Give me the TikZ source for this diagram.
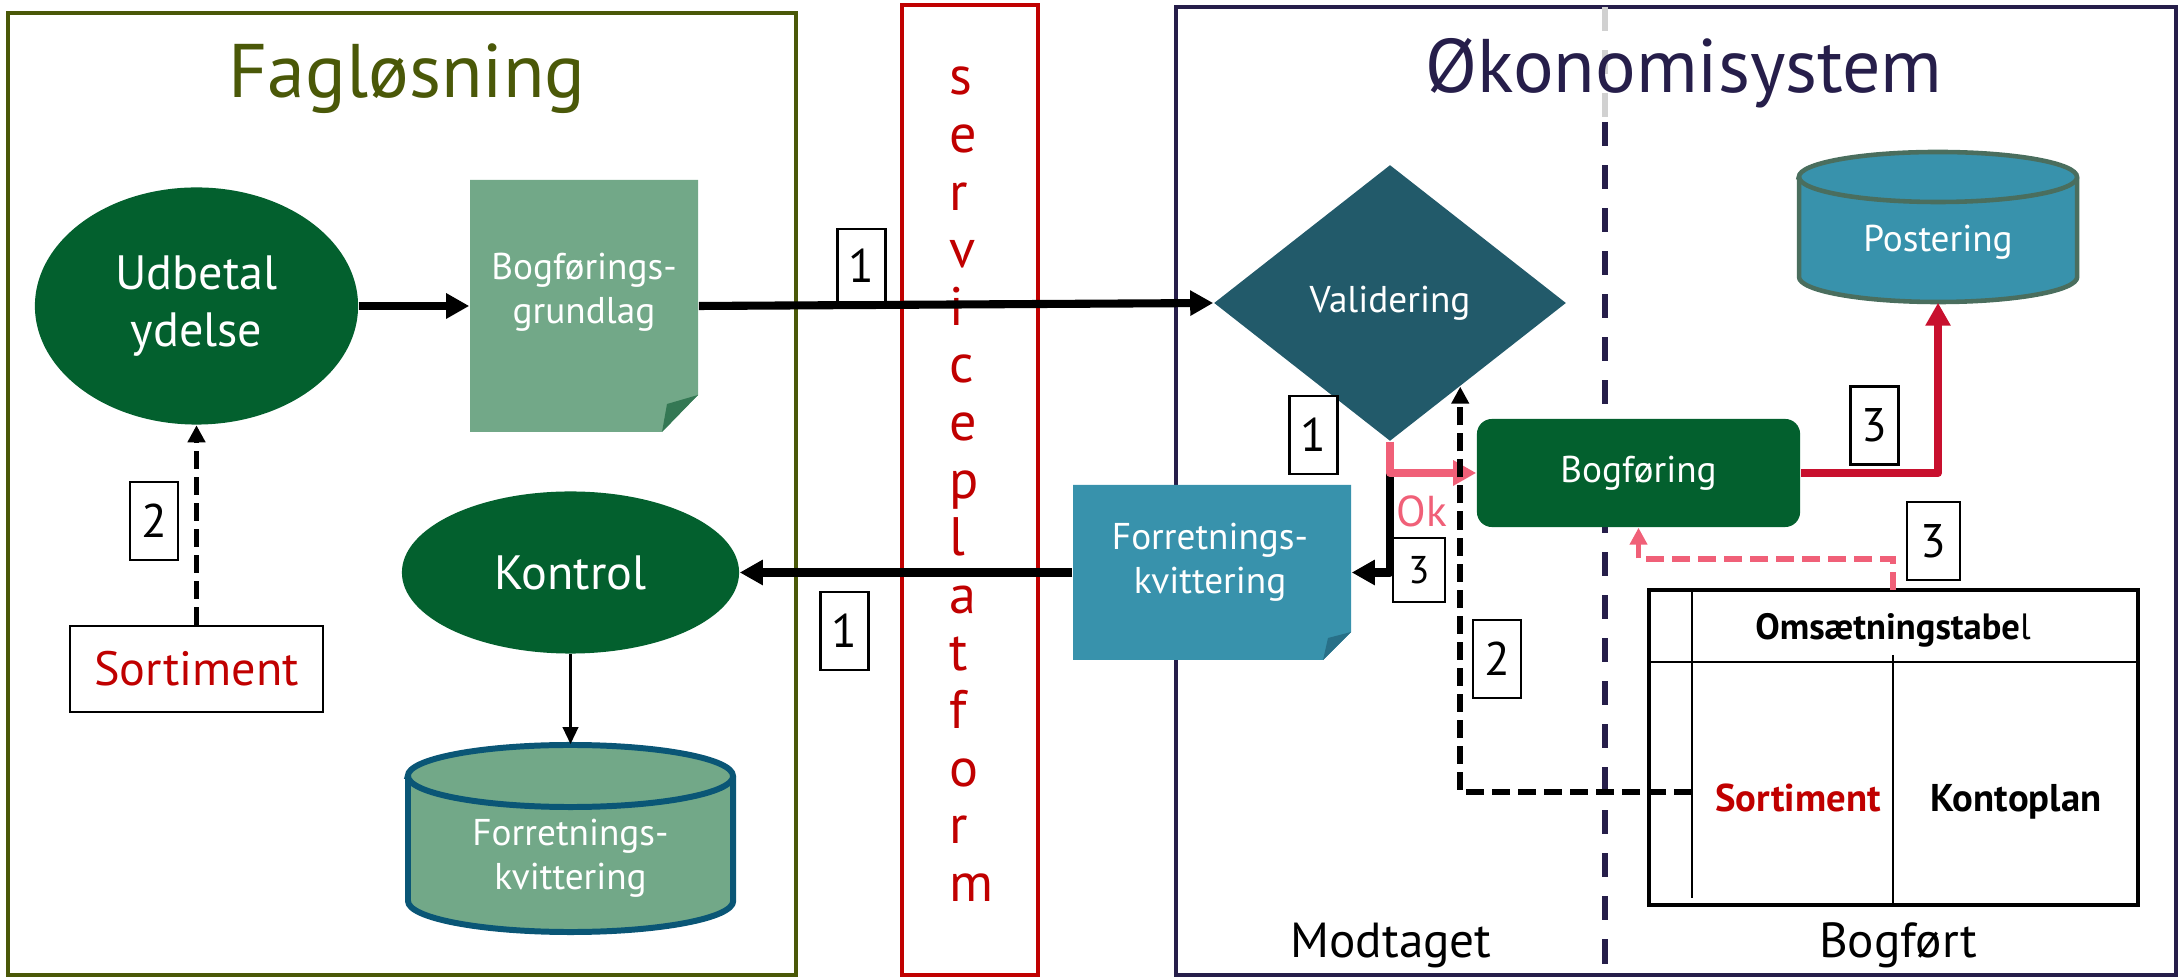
\documentclass[tikz,border=0pt]{standalone}
\usepackage{fontspec}
\setmainfont{PT Sans}
\usetikzlibrary{shapes.geometric,arrows.meta}
\definecolor{fagolive}{RGB}{74,88,8}
\definecolor{okonavy}{RGB}{38,30,74}
\definecolor{svcred}{RGB}{192,0,0}
\definecolor{dkgreen}{RGB}{3,96,46}
\definecolor{sage}{RGB}{114,168,136}
\definecolor{sagefold}{RGB}{52,120,84}
\definecolor{valteal}{RGB}{34,90,106}
\definecolor{docblue}{RGB}{56,146,172}
\definecolor{bluefold}{RGB}{40,112,136}
\definecolor{postrim}{RGB}{74,110,94}
\definecolor{kvitrim}{RGB}{10,86,118}
\definecolor{okpink}{RGB}{240,96,120}
\definecolor{postred}{RGB}{200,16,46}
\begin{document}
\begin{tikzpicture}[x=0.01cm,y=-0.01cm,
		frame/.style={line width=1.3pt},
		title/.style={anchor=base,font=\fontsize{21.6}{26}\selectfont},
		bigtxt/.style={font=\fontsize{13.7}{16.2}\selectfont,text=white,align=center},
		smalltxt/.style={font=\fontsize{10.6}{12.5}\selectfont,text=white,align=center},
		hitbox/.style={inner sep=0pt},
		numbox/.style={draw,fill=white,line width=0.6pt,inner sep=0pt,minimum width=0.48cm,minimum height=0.78cm,font=\fontsize{13.4}{16}\selectfont},
		flow/.style={line width=2.3pt,line join=round,-{Triangle[length=0.23cm,width=0.24cm]}},
		link/.style={line width=1.7pt,dash pattern=on 0.18cm off 0.08cm,-{Triangle[length=0.17cm,width=0.17cm]}}]
	\useasboundingbox (0,0) rectangle (2180,977);
	\draw[frame,fagolive] (8,13) rectangle (796,975);
	\draw[frame,svcred] (902,5) rectangle (1038,975);
	\draw[frame,okonavy] (1176,7) rectangle (2176,975);
	\draw[line width=1.7pt,black!18,dash pattern=on 0.24cm off 0.19cm] (1605,7) -- (1605,120);
	\draw[line width=1.7pt,okonavy,dash pattern=on 0.24cm off 0.19cm] (1605,122) -- (1605,975);
	\node[title,text=fagolive] (fagtitle) at (407,98) {Fagløsning};
	\node[title,text=okonavy] (okotitle) at (1684,93) {Økonomisystem};
	\foreach \ch [count=\i from 0] in {s,e,r,v,i,c,e,p,l,a,t,f,o,r,m}
		\node[anchor=base west,inner sep=0pt,text=svcred,font=\fontsize{15.4}{18}\selectfont] (svc\i) at (949,95+57.6*\i) {\ch};
	% Fagløsning
	\node[ellipse,fill=dkgreen,minimum width=3.23cm,minimum height=2.37cm,inner sep=0pt,bigtxt] (udbetal) at (196.5,306) {Udbetal\\ydelse};
	\fill[sage] (470,180) -- (698,180) -- (698,395) -- (662,432) -- (470,432) -- cycle;
	\fill[sagefold] (698,395) -- (667,404) -- (662,432) -- cycle;
	\node[hitbox,minimum width=2.28cm,minimum height=2.52cm] (grundlag) at (584,306) {};
	\node[smalltxt] (grundlagtxt) at (584,292) {Bogførings-\\grundlag};
	\node[ellipse,fill=dkgreen,minimum width=3.37cm,minimum height=1.62cm,inner sep=0pt,bigtxt] (kontrol) at (570.5,572.5) {Kontrol};
	\node[draw,line width=0.6pt,minimum width=2.53cm,minimum height=0.86cm,inner sep=0pt,text=svcred,font=\fontsize{13.7}{16.2}\selectfont] (sortleft) at (196.5,669) {Sortiment};
	\filldraw[fill=sage,draw=kvitrim,line width=1.7pt] (408,776) -- (408,901) arc (180:360:1.625cm and 0.31cm) -- (733,776) arc (0:180:1.625cm and 0.31cm) -- cycle;
	\draw[kvitrim,line width=1.7pt] (408,776) arc (180:360:1.625cm and 0.31cm);
	\node[hitbox,minimum width=3.25cm,minimum height=1.87cm] (kvitdb) at (570.5,838.5) {};
	\node[smalltxt] (kvitdbtxt) at (570.5,858) {Forretnings-\\kvittering};
	% Økonomisystem
	\node[diamond,fill=valteal,inner sep=0pt,minimum width=3.52cm,minimum height=2.76cm,smalltxt] (validering) at (1390,303) {Validering};
	\fill[docblue] (1073,485) -- (1351,485) -- (1351,632) -- (1323,660) -- (1073,660) -- cycle;
	\fill[bluefold] (1351,632) -- (1328,638) -- (1323,660) -- cycle;
	\node[hitbox,minimum width=2.78cm,minimum height=1.75cm] (kvitdoc) at (1212,572.5) {};
	\node[smalltxt] (kvitdoctxt) at (1210,562) {Forretnings-\\kvittering};
	\node[fill=dkgreen,rounded corners=0.15cm,minimum width=3.23cm,minimum height=1.08cm,inner sep=0pt,smalltxt] (bogforing) at (1638.5,473) {Bogføring};
	\filldraw[fill=docblue,draw=postrim,line width=1.3pt] (1799,177) -- (1799,277) arc (180:360:1.39cm and 0.25cm) -- (2077,177) arc (0:180:1.39cm and 0.25cm) -- cycle;
	\draw[postrim,line width=1.3pt] (1799,177) arc (180:360:1.39cm and 0.25cm);
	\node[hitbox,minimum width=2.78cm,minimum height=1.5cm] (postdb) at (1938,227) {};
	\node[smalltxt,anchor=base] (posttxt) at (1938,252) {Postering};
	% Omsætningstabel
	\draw[line width=1.2pt] (1649,590) rectangle (2138,905);
	\draw[line width=0.8pt] (1649,662) -- (2138,662);
	\draw[line width=0.6pt] (1692,590) -- (1692,898);
	\draw[line width=0.6pt] (1893,655) -- (1893,905);
	\node[anchor=base,font=\fontsize{10.4}{12.5}\selectfont] (omstxt) at (1893,640) {{\bfseries Omsætningstabe}l};
	\node[anchor=base,text=svcred,font=\fontsize{11}{13}\selectfont\bfseries] (sorttab) at (1798,811) {Sortiment};
	\node[anchor=base,font=\fontsize{11}{13}\selectfont\bfseries] (kontotab) at (2016,811) {Kontoplan};
	\coordinate (sortcell) at (1692,792);
	\coordinate (tabtap) at (1893,590);
	\coordinate (p3bend) at (1893,559);
	\node[anchor=base,font=\fontsize{14}{17}\selectfont] (modtaget) at (1391,957) {Modtaget};
	\node[anchor=base,font=\fontsize{14}{17}\selectfont] (bogfort) at (1898,957) {Bogført};
	% connectors
	\draw[flow] (udbetal) -- (grundlag);
	\draw[flow] (grundlag.east) -- (validering.west);
	\draw[flow] (kvitdoc.west) -- (kontrol.east);
	\draw[line width=1pt,-{Triangle[length=0.17cm,width=0.15cm]}] (kontrol) -- (kvitdb.north);
	\draw[link] (sortleft) -- (udbetal);
	\draw[flow] (validering.south) |- (kvitdoc.east);
	\draw[flow,okpink] (validering.south) |- (bogforing.west);
	\draw[flow,postred] (bogforing.east) -| (postdb.south);
	\draw[link] (sortcell) -| (validering.-50);
	\draw[link,okpink,line width=1.5pt] (tabtap) -- (p3bend) -| (bogforing.south);
	\node[text=okpink,anchor=base,font=\fontsize{12.3}{14}\selectfont] (oktxt) at (1422,527) {Ok};
	% step numbers
	\node[numbox,minimum height=0.73cm] (n1a) at (861.5,265.5) {1};
	\node[numbox] (n1b) at (844.5,631) {1};
	\node[numbox] (n2a) at (154,521) {2};
	\node[numbox] (n1c) at (1313.5,435) {1};
	\node[numbox,minimum width=0.52cm,minimum height=0.64cm,font=\fontsize{11}{13}\selectfont] (n3a) at (1419,570) {3};
	\node[numbox] (n2b) at (1497,659) {2};
	\node[numbox] (n3b) at (1874.5,425.5) {3};
	\node[numbox,minimum width=0.53cm] (n3c) at (1933.5,541) {3};
\end{tikzpicture}
\end{document}
